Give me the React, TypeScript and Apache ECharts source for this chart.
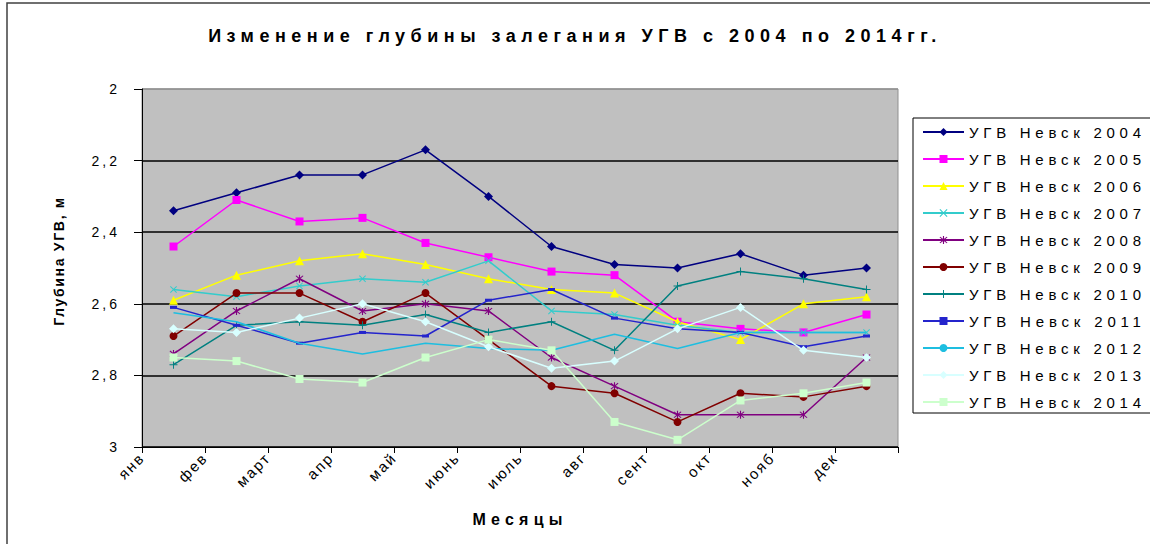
import React, { useEffect, useRef } from "react";
import * as echarts from "echarts";

const TITLE = "Изменение глубины залегания УГВ с 2004 по 2014гг.";
const X_NAME = "Месяцы";
const Y_NAME = "Глубина УГВ, м";
const months = ["янв", "фев", "март", "апр", "май", "июнь", "июль", "авг", "сент", "окт", "нояб", "дек"];
const seriesNames = [
  "УГВ Невск 2004", "УГВ Невск 2005", "УГВ Невск 2006", "УГВ Невск 2007",
  "УГВ Невск 2008", "УГВ Невск 2009", "УГВ Невск 2010", "УГВ Невск 2011",
  "УГВ Невск 2012", "УГВ Невск 2013", "УГВ Невск 2014",
];

const v2004 = [2.34, 2.29, 2.24, 2.24, 2.17, 2.30, 2.44, 2.49, 2.50, 2.46, 2.52, 2.50];
const v2005 = [2.44, 2.31, 2.37, 2.36, 2.43, 2.47, 2.51, 2.52, 2.65, 2.67, 2.68, 2.63];
const v2006 = [2.59, 2.52, 2.48, 2.46, 2.49, 2.53, 2.56, 2.57, 2.65, 2.70, 2.60, 2.58];
const v2007 = [2.56, 2.58, 2.55, 2.53, 2.54, 2.48, 2.62, 2.63, 2.66, 2.68, 2.68, 2.68];
const v2008 = [2.74, 2.62, 2.53, 2.62, 2.60, 2.62, 2.75, 2.83, 2.91, 2.91, 2.91, 2.75];
const v2009 = [2.69, 2.57, 2.57, 2.65, 2.57, 2.70, 2.83, 2.85, 2.93, 2.85, 2.86, 2.83];
const v2010 = [2.77, 2.66, 2.65, 2.66, 2.63, 2.68, 2.65, 2.73, 2.55, 2.51, 2.53, 2.56];
const v2011 = [2.61, 2.66, 2.71, 2.68, 2.69, 2.59, 2.56, 2.64, 2.67, 2.68, 2.72, 2.69];
const v2012 = [2.625, 2.65, 2.71, 2.74, 2.71, 2.725, 2.73, 2.685, 2.725, 2.68, 2.68, 2.68];
const v2013 = [2.67, 2.68, 2.64, 2.60, 2.65, 2.72, 2.78, 2.76, 2.67, 2.61, 2.73, 2.75];
const v2014 = [2.75, 2.76, 2.81, 2.82, 2.75, 2.70, 2.73, 2.93, 2.98, 2.87, 2.85, 2.82];

const seriesValues = [v2004, v2005, v2006, v2007, v2008, v2009, v2010, v2011, v2012, v2013, v2014];

const X_SHAPE = "path://M1,0 L5,4 L9,0 L10,1 L6,5 L10,9 L9,10 L5,6 L1,10 L0,9 L4,5 L0,1 Z";
const STAR_SHAPE =
  "path://M1,0 L5,4 L9,0 L10,1 L6,5 L10,9 L9,10 L5,6 L1,10 L0,9 L4,5 L0,1 Z M4.3,-1 L5.7,-1 L5.7,11 L4.3,11 Z";
const PLUS_SHAPE = "path://M4.4,0 h1.2 v4.4 h4.4 v1.2 h-4.4 v4.4 h-1.2 v-4.4 h-4.4 v-1.2 h4.4 Z";

const styles = [
  { color: "#000080", symbol: "diamond", size: 9 as any },
  { color: "#FF00FF", symbol: "rect", size: 8 as any },
  { color: "#FFFF00", symbol: "triangle", size: 9 as any },
  { color: "#33CCCC", symbol: X_SHAPE, size: 7 as any },
  { color: "#800080", symbol: STAR_SHAPE, size: 8 as any },
  { color: "#800000", symbol: "circle", size: 8 as any },
  { color: "#008080", symbol: PLUS_SHAPE, size: 8 as any },
  { color: "#2424CC", symbol: "rect", size: [7, 3] as any },
  { color: "#1EBEE0", symbol: "none", size: 0 as any },
  { color: "#D8FFFF", symbol: "diamond", size: 9 as any },
  { color: "#CCFFCC", symbol: "rect", size: 8 as any },
];

const FONT = "'Liberation Sans Narrow', 'Liberation Sans', Arial, sans-serif";
const FONT_REG = "'Liberation Sans', Arial, sans-serif";

const widthTargets: Record<string, number> = {
  [TITLE]: 728,
  [X_NAME]: 90,
  [Y_NAME]: 128,
};

function fixTexts(root: HTMLElement) {
  root.querySelectorAll("text").forEach((node) => {
    const t = node as SVGTextElement;
    const s = (t.textContent || "").trim();
    if (!s) return;
    let target: number | undefined = widthTargets[s];
    if (target === undefined && s.startsWith("УГВ Невск")) target = 172;
    let spacing: number | null = null;
    if (target !== undefined) {
      t.style.letterSpacing = "0px";
      const len = t.getComputedTextLength();
      spacing = Math.max(0, (target - len) / Math.max(1, s.length - 1));
    } else if (months.includes(s)) {
      spacing = 2;
    } else if (/^\d(,\d)?$/.test(s)) {
      spacing = 3;
    }
    if (spacing !== null) t.style.letterSpacing = spacing.toFixed(2) + "px";
  });
}

export default function App() {
  const ref = useRef<HTMLDivElement>(null);

  useEffect(() => {
    if (!ref.current) return;
    const chart = echarts.init(ref.current, undefined, { renderer: "svg" });

    const series = seriesNames.map((name, i) => ({
      name,
      type: "line",
      data: seriesValues[i],
      symbol: styles[i].symbol,
      symbolSize: styles[i].size,
      showSymbol: styles[i].symbol !== "none",
      color: styles[i].color,
      lineStyle: { color: styles[i].color, width: 1.5 },
      itemStyle: { color: styles[i].color, borderWidth: 0 },
      emphasis: { disabled: true },
      z: 3 + i,
    }));

    chart.setOption({
      animation: false,
      backgroundColor: "#ffffff",
      textStyle: { fontFamily: FONT_REG },
      title: {
        text: TITLE,
        left: "center",
        top: 27,
        padding: 0,
        textStyle: { fontSize: 18, fontWeight: "bold", color: "#000", fontFamily: FONT },
      },
      graphic: [
        {
          type: "rect",
          shape: { x: 7, y: 3, width: 1160, height: 600 },
          style: { fill: "none", stroke: "#404040", lineWidth: 1.5 },
          silent: true,
          z: 0,
        },
        {
          type: "rect",
          shape: { x: 913, y: 118, width: 260, height: 295 },
          style: { fill: "#ffffff", stroke: "#000000", lineWidth: 1 },
          silent: true,
          z: 0,
        },
      ],
      legend: {
        orient: "vertical",
        left: 922,
        top: 124,
        padding: 0,
        itemWidth: 41,
        itemHeight: 10,
        itemGap: 11,
        data: seriesNames,
        textStyle: { fontSize: 15, lineHeight: 16, color: "#000", fontFamily: FONT_REG, padding: [0, 0, 0, 0] },
        selectedMode: false,
        z: 10,
      },
      grid: {
        left: 142,
        right: 252,
        top: 89,
        bottom: 97,
        show: true,
        backgroundColor: "#C0C0C0",
        borderColor: "#909090",
        borderWidth: 1,
      },
      xAxis: [
        {
          type: "category",
          data: months,
          boundaryGap: true,
          axisLine: { show: true, lineStyle: { color: "#000", width: 1 } },
          axisTick: { show: true, length: 6, lineStyle: { color: "#000" } },
          axisLabel: { show: false },
          splitLine: { show: false },
          name: X_NAME,
          nameLocation: "middle",
          nameGap: 64,
          nameTextStyle: { fontSize: 16, fontWeight: "bold", color: "#000", fontFamily: FONT },
        },
        {
          type: "category",
          data: [...months, ""],
          boundaryGap: false,
          position: "bottom",
          axisLine: { show: false },
          axisTick: { show: false },
          splitLine: { show: false },
          axisLabel: {
            rotate: 45,
            interval: 0,
            fontSize: 15,
            color: "#000",
            margin: 8,
            fontFamily: FONT_REG,
          },
        },
      ],
      yAxis: {
        type: "value",
        inverse: true,
        min: 2,
        max: 3,
        interval: 0.2,
        axisLine: { show: true, lineStyle: { color: "#000", width: 1 } },
        axisTick: { show: true, length: 8, lineStyle: { color: "#000" } },
        axisLabel: {
          fontSize: 14,
          color: "#000",
          margin: 22,
          fontFamily: FONT_REG,
          formatter: (v: number) => String(+v.toFixed(2)).replace(".", ","),
        },
        splitLine: {
          show: true,
          lineStyle: { color: ["#909090", "#000", "#000", "#000", "#000", "#000"], width: 1.5 },
        },
        name: Y_NAME,
        nameLocation: "middle",
        nameGap: 76,
        nameTextStyle: { fontSize: 14, fontWeight: "bold", color: "#000", fontFamily: FONT, padding: [0, 0, 0, 14] },
      },
      series,
    });

    const el = ref.current;
    const apply = () => fixTexts(el);
    apply();
    chart.on("finished", apply);
    const t1 = setTimeout(apply, 30);
    const t2 = setTimeout(apply, 200);

    return () => {
      clearTimeout(t1);
      clearTimeout(t2);
      chart.dispose();
    };
  }, []);

  return (
    <div
      ref={ref}
      style={{ position: "absolute", left: 0, top: 0, width: 1150, height: 544, background: "#fff" }}
    />
  );
}
